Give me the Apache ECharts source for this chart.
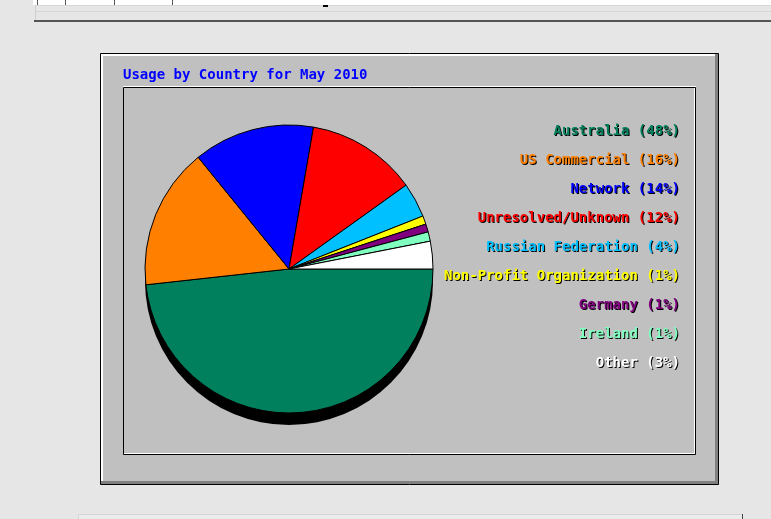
<!DOCTYPE html>
<html>
<head>
<meta charset="utf-8">
<script src="https://cdn.jsdelivr.net/npm/echarts@6/dist/echarts.min.js"></script>
<style>
  html, body { margin: 0; padding: 0; background: #e6e6e6; }
  #chart { width: 771px; height: 519px; }
</style>
</head>
<body>
<div id="chart"></div>
<script>
// ---- data ----
var titleText = 'Usage by Country for May 2010';
var categories = ['Australia', 'US Commercial', 'Network', 'Unresolved/Unknown',
  'Russian Federation', 'Non-Profit Organization', 'Germany', 'Ireland', 'Other'];
var percentLabels = [48, 16, 14, 12, 4, 1, 1, 1, 3];
var sliceValues = [48.3, 15.9, 13.6, 12.4, 3.9, 0.95, 0.9, 1.05, 3.1];

// ---- styles ----
var palette = ['#00805c', '#ff8000', '#0000ff', '#ff0000', '#00c0ff',
  '#ffff00', '#800080', '#80ffc0', '#ffffff'];
var FONT = 'bold 14px "DejaVu Sans Mono", "Liberation Mono", monospace';

var chart = echarts.init(document.getElementById('chart'), null, { renderer: 'canvas' });

var graphics = [];
// top page strip
graphics.push({ type: 'rect', silent: true, z: 0, shape: { x: 33, y: 0, width: 738, height: 5 }, style: { fill: '#ffffff' } });
graphics.push({ type: 'rect', silent: true, z: 0, shape: { x: 35.5, y: 5.5, width: 740, height: 6 }, style: { fill: '#e6e6e6', stroke: '#d6d6d6', lineWidth: 1 } });
[37, 65, 114, 172].forEach(function (x) {
  graphics.push({ type: 'line', silent: true, z: 1, shape: { x1: x + 0.5, y1: 0, x2: x + 0.5, y2: 5 }, style: { stroke: '#555', lineWidth: 1 } });
});
graphics.push({ type: 'rect', silent: true, z: 1, shape: { x: 323, y: 5, width: 5, height: 2 }, style: { fill: '#000' } });
graphics.push({ type: 'rect', silent: true, z: 1, shape: { x: 34, y: 20, width: 737, height: 2 }, style: { fill: '#555555' } });
graphics.push({ type: 'line', silent: true, z: 1, shape: { x1: 35.5, y1: 5, x2: 35.5, y2: 20 }, style: { stroke: '#cfcfcf', lineWidth: 1 } });

// outer box
graphics.push({ type: 'rect', silent: true, z: 0, shape: { x: 100.5, y: 53.5, width: 618, height: 431 }, style: { fill: '#c0c0c0', stroke: '#000', lineWidth: 1 } });
graphics.push({ type: 'rect', silent: true, z: 1, shape: { x: 101, y: 54, width: 616, height: 2 }, style: { fill: '#ffffff' } });
graphics.push({ type: 'rect', silent: true, z: 1, shape: { x: 101, y: 54, width: 2, height: 428 }, style: { fill: '#ffffff' } });
graphics.push({ type: 'rect', silent: true, z: 1, shape: { x: 101, y: 481, width: 617, height: 3 }, style: { fill: '#808080' } });
graphics.push({ type: 'rect', silent: true, z: 1, shape: { x: 715, y: 54, width: 3, height: 430 }, style: { fill: '#808080' } });

// inner panel
graphics.push({ type: 'rect', silent: true, z: 1, shape: { x: 123.5, y: 87.5, width: 572, height: 367 }, style: { fill: '#c0c0c0', stroke: '#000', lineWidth: 1 } });
graphics.push({ type: 'line', silent: true, z: 2, shape: { x1: 123, y1: 86.5, x2: 696, y2: 86.5 }, style: { stroke: '#fff', lineWidth: 1 } });
graphics.push({ type: 'line', silent: true, z: 2, shape: { x1: 124, y1: 453.5, x2: 695, y2: 453.5 }, style: { stroke: '#fff', lineWidth: 1 } });
graphics.push({ type: 'line', silent: true, z: 2, shape: { x1: 694.5, y1: 88, x2: 694.5, y2: 454 }, style: { stroke: '#fff', lineWidth: 1 } });

// bottom page box
graphics.push({ type: 'rect', silent: true, z: 0, shape: { x: 78.5, y: 514.5, width: 664, height: 10 }, style: { fill: '#ececec', stroke: '#d4d4d4', lineWidth: 1 } });
graphics.push({ type: 'line', silent: true, z: 1, shape: { x1: 742.5, y1: 514, x2: 742.5, y2: 519 }, style: { stroke: '#444', lineWidth: 1 } });

// legend texts (right aligned, with black drop shadow)
var legendRight = 680, legendTop = 131, legendStep = 29;
categories.forEach(function (name, i) {
  var label = name + ' (' + percentLabels[i] + '%)';
  var y = legendTop + i * legendStep;
  graphics.push({ type: 'text', silent: true, z: 10, x: legendRight + 1, y: y + 1,
    style: { text: label, font: FONT, fill: '#000', textAlign: 'right', textVerticalAlign: 'middle' } });
  graphics.push({ type: 'text', silent: true, z: 11, x: legendRight, y: y,
    style: { text: label, font: FONT, fill: palette[i], textAlign: 'right', textVerticalAlign: 'middle' } });
});

var pieData = categories.map(function (name, i) {
  return { name: name, value: sliceValues[i], itemStyle: { color: palette[i] } };
});
var totalValue = sliceValues.reduce(function (a, b) { return a + b; }, 0);

chart.setOption({
  backgroundColor: '#e6e6e6',
  animation: false,
  title: {
    text: titleText,
    left: 123, top: 68, padding: 0,
    textStyle: { color: '#0000ff', fontFamily: '"DejaVu Sans Mono", "Liberation Mono", monospace', fontSize: 14, fontWeight: 'bold' },
    z: 12
  },
  graphic: graphics,
  series: [
    {
      type: 'pie', name: 'shadow', silent: true, z: 3,
      center: [289, 281], radius: 144,
      startAngle: 0, clockwise: true,
      label: { show: false }, labelLine: { show: false },
      itemStyle: { color: '#000', borderWidth: 0 },
      emphasis: { disabled: true },
      data: [{ name: 'shadow', value: totalValue }]
    },
    {
      type: 'pie', name: 'Usage', silent: true, z: 4,
      center: [289, 269], radius: 144,
      startAngle: 0, clockwise: true,
      avoidLabelOverlap: false,
      label: { show: false }, labelLine: { show: false },
      itemStyle: { borderColor: '#000', borderWidth: 1 },
      emphasis: { disabled: true },
      data: pieData
    }
  ]
});
</script>
</body>
</html>
